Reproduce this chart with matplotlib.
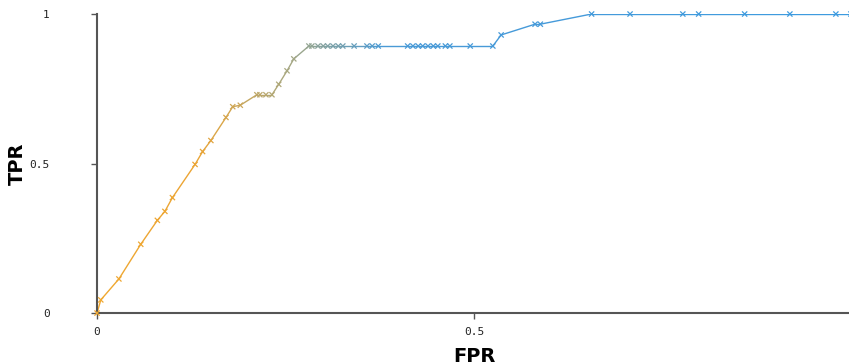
import numpy as np
import matplotlib.pyplot as plt
from matplotlib.collections import LineCollection
from matplotlib.colors import LinearSegmentedColormap

# ROC points (false positive rate, true positive rate)
fpr = [0.0, 0.005, 0.029, 0.058, 0.080, 0.090, 0.100, 0.130, 0.140, 0.151,
       0.171, 0.180, 0.190, 0.212, 0.216, 0.224, 0.232, 0.241, 0.252, 0.261,
       0.281, 0.285, 0.293, 0.300, 0.306, 0.313, 0.320, 0.326, 0.341,
       0.358, 0.365, 0.373, 0.412, 0.419, 0.426, 0.432, 0.439, 0.446, 0.452,
       0.462, 0.468, 0.495, 0.525, 0.536, 0.581, 0.588, 0.656, 0.707, 0.777,
       0.798, 0.859, 0.919, 0.980, 1.0]
tpr = [0.0, 0.044, 0.114, 0.230, 0.310, 0.340, 0.386, 0.497, 0.540, 0.577,
       0.654, 0.690, 0.695, 0.730, 0.730, 0.730, 0.730, 0.765, 0.810, 0.850,
       0.893, 0.893, 0.893, 0.893, 0.893, 0.893, 0.893, 0.893, 0.893,
       0.893, 0.893, 0.893, 0.893, 0.893, 0.893, 0.893, 0.893, 0.893, 0.893,
       0.893, 0.893, 0.893, 0.893, 0.930, 0.966, 0.966, 1.0, 1.0, 1.0,
       1.0, 1.0, 1.0, 1.0, 1.0]
xticks = [0, 0.5, 1]
yticks = [0, 0.5, 1]

x = np.array(fpr)
y = np.array(tpr)

cmap = LinearSegmentedColormap.from_list(
    "roc", [(0.0, "#f0a830"), (0.13, "#eba535"), (0.25, "#a9a880"),
            (0.38, "#4a9ad6"), (1.0, "#3d9be0")])

fig = plt.figure(figsize=(8.49, 3.64), dpi=100)
ax = fig.add_axes([0.1143, 0.140, 0.888, 0.8215])

pts = np.column_stack([x, y])
segs = np.stack([pts[:-1], pts[1:]], axis=1)
mid = (x[:-1] + x[1:]) / 2
lc = LineCollection(segs, colors=cmap(mid), linewidths=1.0, zorder=2)
ax.add_collection(lc)
ax.scatter(x, y, c=cmap(x), marker="x", s=14, linewidths=0.9, zorder=3,
           clip_on=False)

ax.set_xlim(0, 1)
ax.set_ylim(0, 1)
ax.set_xticks(xticks)
ax.set_yticks(yticks)
ax.set_xticklabels(["0", "0.5", "1"])
ax.set_yticklabels(["0", "0.5", "1"])

for side in ["top", "right"]:
    ax.spines[side].set_visible(False)
for side in ["left", "bottom"]:
    ax.spines[side].set_color("#555555")
    ax.spines[side].set_linewidth(1.5)

ax.tick_params(axis="both", length=4, width=1, color="#555555",
               labelsize=8, labelcolor="#222222")
ax.tick_params(axis="y", pad=30)
ax.tick_params(axis="x", pad=6)
for lab in ax.get_xticklabels() + ax.get_yticklabels():
    lab.set_family("DejaVu Sans Mono")

ax.set_xlabel("FPR", fontsize=14, fontweight="bold", labelpad=7)
ax.set_ylabel("TPR", fontsize=14, fontweight="bold", labelpad=2)

fig.savefig("out.png", dpi=100)
